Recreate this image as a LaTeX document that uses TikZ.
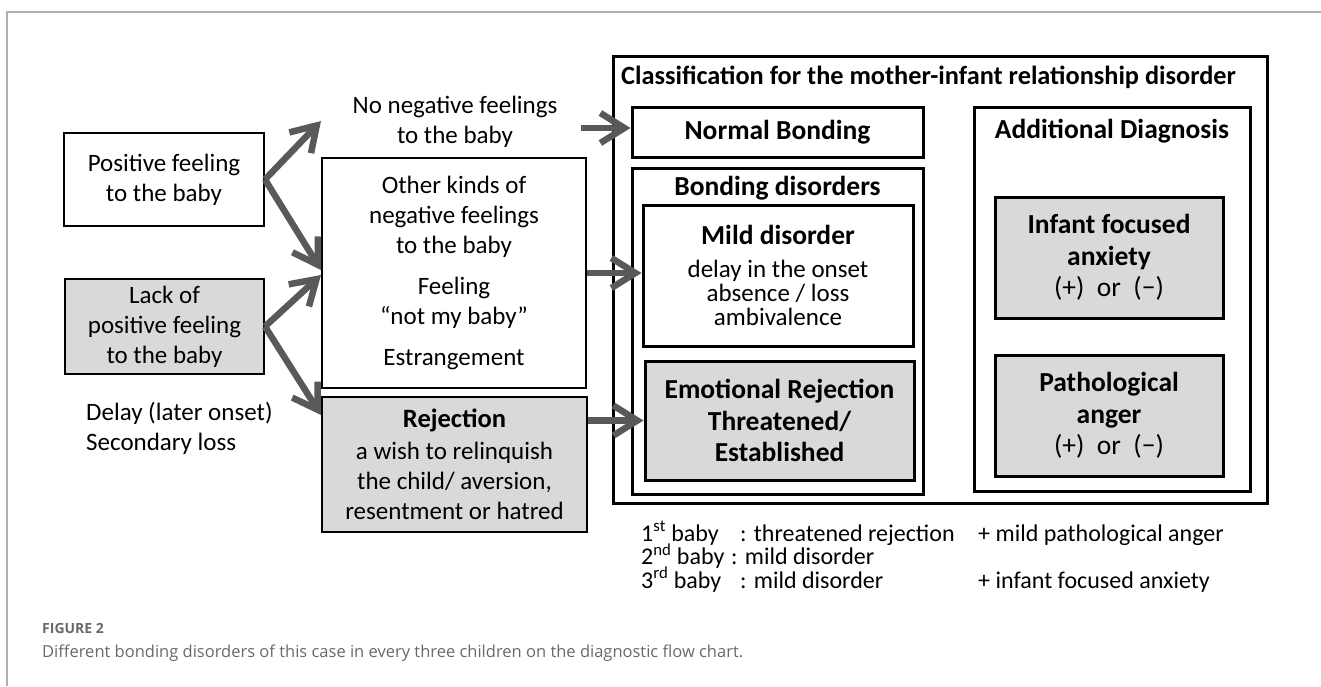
\documentclass[tikz,border=0pt]{standalone}
\usepackage{fontspec}
\setmainfont{Carlito}
\newfontfamily\capfont{Open Sans}
\usetikzlibrary{arrows.meta}

\definecolor{boxgray}{RGB}{217,217,217}
\definecolor{arrowgray}{RGB}{89,89,89}
\definecolor{framegray}{RGB}{175,175,175}
\definecolor{capgray}{RGB}{105,105,105}
\newcommand\tightlines{\lineskiplimit=-30pt\relax}

\begin{document}
\begin{tikzpicture}[x=1pt,y=-1pt,
    box/.style={draw, line width=2pt, inner sep=0pt, align=center},
    cbox/.style={box, line width=3pt},
    shade/.style={fill=boxgray},
    txt/.style={inner sep=0pt, align=center},
    big/.style={font=\fontsize{25}{30}\selectfont},
    head/.style={font=\fontsize{27.5}{31.5}\selectfont\bfseries},
    note/.style={txt, align=left, anchor=base west, font=\fontsize{24}{23.5}\selectfont\tightlines},
    flow/.style={draw=arrowgray, line width=6.5pt, -{Straight Barb[length=24pt,width=30pt]}}]
    \useasboundingbox (0,0) rectangle (1321,686);

    % frame
    \draw[framegray, line width=1.2pt] (7,686) -- (7,12) -- (1321,12);

    % left part
    \node[box, big, minimum width=200, minimum height=93](pos) at (164,179.5){Positive feeling\\to the baby};
    \node[box, shade, big, minimum width=199, minimum height=95](lack) at (164.5,326.5){Lack of\\positive feeling\\to the baby};
    \node[txt, big, align=left, anchor=west](delay) at (86,428){Delay (later onset)\\Secondary loss};

    \node[txt, big](no) at (455,122){No negative feelings\\to the baby};
    \node[box, big, minimum width=264, minimum height=230](oth) at (454,273){Other kinds of\\negative feelings\\to the baby\\[11pt]Feeling\\“not my baby”\\[11pt]Estrangement};
    \node[box, shade, big, minimum width=265, minimum height=135](rej) at (454.5,464.5){{\fontsize{26.5}{30}\selectfont\bfseries Rejection}\\[2pt]a wish to relinquish\\the child/ aversion,\\resentment or hatred};

    % classification
    \node[cbox, minimum width=654, minimum height=447](cls) at (940,279.5){};
    \node[txt, font=\fontsize{26.3}{30}\selectfont\bfseries, anchor=west](title) at (621,77){Classification for the mother-infant relationship disorder};

    \node[cbox, head, minimum width=291, minimum height=50](nb) at (777.5,132){Normal Bonding};
    \node[cbox, minimum width=291, minimum height=326](bd) at (777.5,331){};
    \node[txt, head](bdlabel) at (777.5,188){Bonding disorders};
    \node[cbox, font=\fontsize{25}{24}\selectfont, minimum width=270, minimum height=141](mild) at (778,275.5){{\fontsize{27.5}{31.5}\selectfont\bfseries Mild disorder}\\[9pt]delay in the onset\\absence / loss\\ambivalence};
    \node[cbox, shade, head, minimum width=269, minimum height=119](emo) at (779.5,420.5){Emotional Rejection\\Threatened/\\Established};

    \node[cbox, minimum width=276, minimum height=384](add) at (1112,299){};
    \node[txt, head](addlabel) at (1112,131){Additional Diagnosis};
    \node[cbox, shade, head, minimum width=228, minimum height=121](inf) at (1109,257.5){Infant focused\\anxiety\\\mdseries (+)\ \ or\ \ (−)};
    \node[cbox, shade, head, minimum width=228, minimum height=121](pat) at (1109,415.5){Pathological\\anger\\\mdseries (+)\ \ or\ \ (−)};

    % arrows
    \coordinate(noin) at (321,121);
    \coordinate(rejin) at (321,415);
    \coordinate(noout) at (581,128);
    \draw[flow] (pos.east) -- (noin);
    \draw[flow] (pos.east) -- ([yshift=3pt]oth.west);
    \draw[flow] (lack.east) -- ([yshift=-2pt]oth.west);
    \draw[flow] (lack.east) -- (rejin);
    \draw[flow] (noout) -- (noout -| nb.west);
    \draw[flow] (oth.east) -- (oth.east -| mild.west);
    \draw[flow] (emo.west -| rej.east) -- (emo.west);

    % three babies (base anchor = last line)
    \node[note](bab) at (641,588){1\textsuperscript{st} baby\\2\textsuperscript{nd} baby\\3\textsuperscript{rd} baby};
    \node[note](kind) at (740,588){: threatened rejection\\\hspace*{-9pt}: mild disorder\\: mild disorder};
    \node[note](extra) at (978,588){+ mild pathological anger\\[23.5pt]+ infant focused anxiety};

    % caption
    \node[txt, anchor=west, text=capgray, font=\capfont\fontsize{14}{17}\selectfont\bfseries](fig) at (42,628){FIGURE 2};
    \node[txt, anchor=west, text=capgray, font=\capfont\fontsize{16.5}{20}\selectfont](cap) at (42,653){Different bonding disorders of this case in every three children on the diagnostic flow chart.};
\end{tikzpicture}
\end{document}
